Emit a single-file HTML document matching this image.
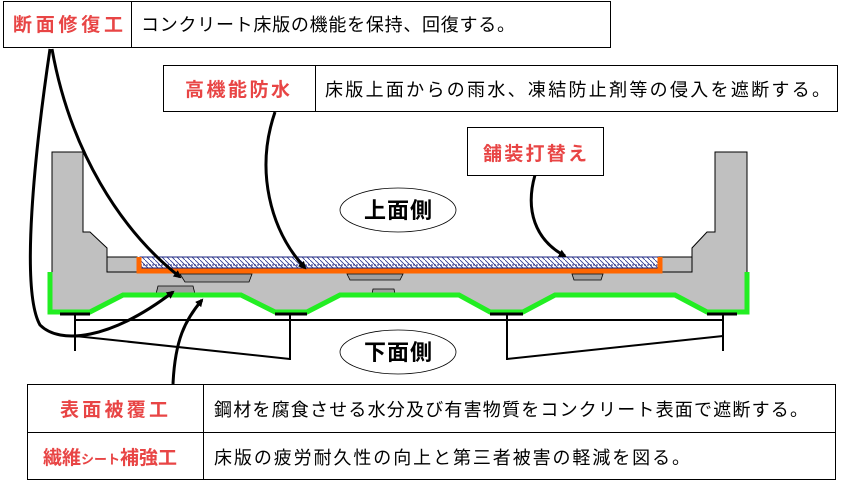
<!DOCTYPE html>
<html><head><meta charset="utf-8"><style>
body{margin:0;background:#fff;}
svg{display:block}
text{font-family:"Liberation Sans","Noto Sans CJK JP",sans-serif;}
.r{fill:#e84545;font-size:19px;font-weight:bold}
.b{fill:#000;font-size:18px}
</style></head><body>
<svg width="846" height="481" viewBox="0 0 846 481" xmlns="http://www.w3.org/2000/svg">
<defs>
<pattern id="h" width="5" height="5" patternUnits="userSpaceOnUse"><rect width="5" height="5" fill="#fff"/><path d="M0,0 L5,5" stroke="#2a3590" stroke-width="0.8"/></pattern>
<marker id="a" markerWidth="8" markerHeight="8" refX="6" refY="4" orient="auto" markerUnits="userSpaceOnUse"><path d="M0,0 L8,4 L0,8 z" fill="#000"/></marker>
</defs>
<path d="M52,152 L83,152 L83,232 L90,232 L107,248 L107,257 L137,257 L137,272 L659,272 L659,257 L692,257 L692,248 L707,232 L715,232 L715,152 L747,152 L747,312 L707,312 L675,295 L555,295 L523,312 L490,312 L459,295 L340,295 L307,312 L275,312 L241,295 L123,295 L90,312 L52,312 Z" fill="#c0c0c0" stroke="#000" stroke-width="1"/>
<path d="M107,257 L107,272 L137,272 M692,257 L692,272 L659,272" fill="none" stroke="#000" stroke-width="1"/>
<rect x="140" y="257" width="518" height="11" fill="url(#h)" stroke="#1a237e" stroke-width="1"/>
<line x1="140" y1="265" x2="658" y2="265" stroke="#1a237e" stroke-width="1" stroke-dasharray="2,1"/>
<path d="M139,257 L139,271 L660,271 L660,257" fill="none" stroke="#ff6600" stroke-width="5"/>
<path d="M180,274 L252,274 L249,282 L185,282 Z" fill="#a0a0a0" stroke="#000" stroke-width="0.8"/>
<path d="M347,274 L403,274 L400,280 L350,280 Z" fill="#a0a0a0" stroke="#000" stroke-width="0.8"/>
<path d="M572,274 L603,274 L601,280 L574,280 Z" fill="#a0a0a0" stroke="#000" stroke-width="0.8"/>
<path d="M156,294 L158,286 L193,286 L195,294 Z" fill="#a0a0a0" stroke="#000" stroke-width="0.8"/>
<path d="M372,294 L373,289 L394,289 L395,294 Z" fill="#a0a0a0" stroke="#000" stroke-width="0.8"/>
<path d="M50,272 L50,312 L90,312 L123,295 L241,295 L275,312 L307,312 L340,295 L459,295 L490,312 L523,312 L555,295 L675,295 L707,312 L747,312 L747,272" fill="none" stroke="#22ee22" stroke-width="5"/>
<g stroke="#000" stroke-width="3"><line x1="60" y1="314" x2="90" y2="314"/><line x1="275" y1="314" x2="307" y2="314"/><line x1="490" y1="314" x2="523" y2="314"/><line x1="707" y1="314" x2="737" y2="314"/></g>
<g stroke="#000" stroke-width="2" fill="none">
<line x1="75" y1="320" x2="723" y2="320"/>
<line x1="75" y1="315" x2="75" y2="351"/><line x1="290" y1="315" x2="290" y2="360"/>
<line x1="507" y1="315" x2="507" y2="360"/><line x1="723" y1="315" x2="723" y2="351"/>
<line x1="75" y1="336" x2="290" y2="359"/><line x1="507" y1="359" x2="723" y2="336"/>
</g>
<ellipse cx="398" cy="210" rx="58" ry="22" fill="#fff" stroke="#000" stroke-width="0.8"/>
<text x="398" y="218" text-anchor="middle" font-size="22" font-weight="bold" textLength="68">上面側</text>
<ellipse cx="398" cy="352" rx="58" ry="22" fill="#fff" stroke="#000" stroke-width="0.8"/>
<text x="398" y="360" text-anchor="middle" font-size="22" font-weight="bold" textLength="68">下面側</text>
<g stroke="#000" stroke-width="3" fill="none">
<path d="M52,49 C70,150 120,230 180,277" marker-end="url(#a)"/>
<path d="M50,49 C35,150 20,290 40,325 C60,345 110,340 173,292" marker-end="url(#a)"/>
<path d="M173,384 C175,340 185,320 202,300" marker-end="url(#a)"/>
<path d="M275,112 C255,170 270,230 305,268" marker-end="url(#a)"/>
<path d="M535,175 C525,210 535,240 565,256" marker-end="url(#a)"/>
</g>
<g fill="#fff" stroke="#000" stroke-width="1">
<rect x="3.5" y="1.5" width="607" height="46"/><line x1="131.5" y1="1.5" x2="131.5" y2="47.5"/>
<rect x="163.5" y="65.5" width="674" height="46"/><line x1="315.5" y1="65.5" x2="315.5" y2="111.5"/>
<rect x="467.5" y="127.5" width="136" height="48"/>
<rect x="27.5" y="384.5" width="808" height="95"/><line x1="203.5" y1="384.5" x2="203.5" y2="479.5"/><line x1="27.5" y1="432.5" x2="835.5" y2="432.5"/>
</g>
<text class="r" x="13" y="31" textLength="110" lengthAdjust="spacing">断面修復工</text>
<text class="b" x="141" y="31" textLength="374" lengthAdjust="spacing">コンクリート床版の機能を保持、回復する。</text>
<text class="r" x="185" y="96" textLength="105" lengthAdjust="spacing">高機能防水</text>
<text class="b" x="325" y="96" textLength="505" lengthAdjust="spacing">床版上面からの雨水、凍結防止剤等の侵入を遮断する。</text>
<text class="r" x="483" y="160" textLength="104" lengthAdjust="spacing">舗装打替え</text>
<text class="r" x="60" y="416" textLength="108" lengthAdjust="spacing">表面被覆工</text>
<text class="b" x="214" y="416" textLength="594" lengthAdjust="spacing">鋼材を腐食させる水分及び有害物質をコンクリート表面で遮断する。</text>
<text class="r" x="43" y="464">繊維<tspan font-size="13">シート</tspan>補強工</text>
<text class="b" x="214" y="464" textLength="476" lengthAdjust="spacing">床版の疲労耐久性の向上と第三者被害の軽減を図る。</text>
</svg>
</body></html>
